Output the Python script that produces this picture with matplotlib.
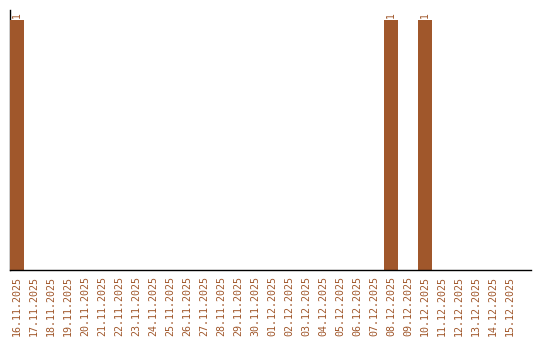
import matplotlib
matplotlib.use("Agg")
import matplotlib.pyplot as plt
import numpy as np

dates = [
    "16.11.2025", "17.11.2025", "18.11.2025", "19.11.2025", "20.11.2025",
    "21.11.2025", "22.11.2025", "23.11.2025", "24.11.2025", "25.11.2025",
    "26.11.2025", "27.11.2025", "28.11.2025", "29.11.2025", "30.11.2025",
    "01.12.2025", "02.12.2025", "03.12.2025", "04.12.2025", "05.12.2025",
    "06.12.2025", "07.12.2025", "08.12.2025", "09.12.2025", "10.12.2025",
    "11.12.2025", "12.12.2025", "13.12.2025", "14.12.2025", "15.12.2025",
]
counts = [1, 0, 0, 0, 0, 0, 0, 0, 0, 0,
          0, 0, 0, 0, 0, 0, 0, 0, 0, 0,
          0, 0, 1, 0, 1, 0, 0, 0, 0, 0]

color = "#a0572b"

fig = plt.figure(figsize=(5.4, 3.4), dpi=100)
ax = fig.add_axes([10 / 540, 70 / 340, 521 / 540, 260 / 340])

x = np.arange(len(dates))
ax.bar(x, counts, width=0.82, color=color, zorder=1)

# value labels above the bars
for xi, v in zip(x, counts):
    if v > 0:
        ax.text(xi, v + 0.01, str(v), rotation=90, ha="center", va="bottom",
                color=color, fontsize=7, family="DejaVu Sans Mono")

ax.set_xlim(-0.41, 30.24)
ax.set_ylim(0, 1.04)
ax.set_xticks(x)
ax.set_xticklabels(dates, rotation=90, color=color, fontsize=7.2,
                   family="DejaVu Sans Mono")
ax.tick_params(axis="x", length=0, pad=4)
ax.set_yticks([])

ax.spines["top"].set_visible(False)
ax.spines["right"].set_visible(False)
ax.spines["left"].set_linewidth(1)
ax.spines["bottom"].set_linewidth(1)
ax.spines["left"].set_zorder(0)

plt.savefig("out.png", dpi=100)
plt.close()
